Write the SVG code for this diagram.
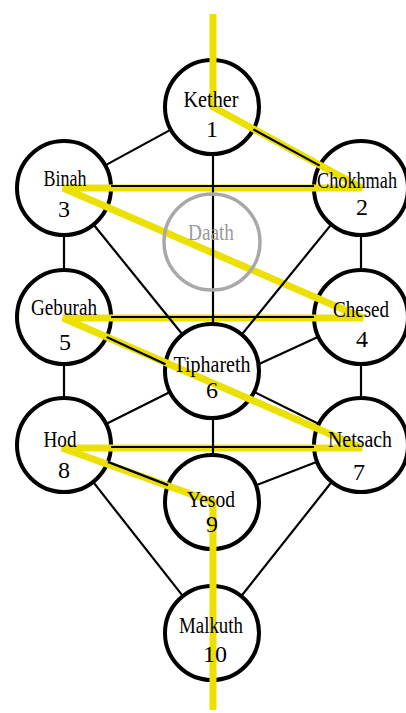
<svg xmlns="http://www.w3.org/2000/svg" width="406" height="713" viewBox="0 0 406 713">
<style>
.n{fill:#fff;stroke:#000;stroke-width:4}
.d{fill:none;stroke:#a8a8a8;stroke-width:3.5}
.c line{stroke:#000;stroke-width:2.2}
.bolt{fill:none;stroke:#ebe000;stroke-width:7}
.nm{font-family:"Liberation Serif",serif;font-size:24px;text-anchor:middle;fill:#000}
.num{font-family:"Liberation Serif",serif;font-size:24px;text-anchor:middle;fill:#000}
.g{fill:#9a9a9a}
</style>
<rect width="406" height="713" fill="#fff"/>
<g id="circles">
<circle id="c-kether" class="n" cx="212" cy="107" r="47"/>
<circle id="c-binah" class="n" cx="64" cy="188" r="47"/>
<circle id="c-chokhmah" class="n" cx="361" cy="188" r="47"/>
<circle id="c-geburah" class="n" cx="64" cy="317" r="47"/>
<circle id="c-chesed" class="n" cx="361" cy="317" r="47"/>
<circle id="c-tiphareth" class="n" cx="212" cy="371" r="47"/>
<circle id="c-hod" class="n" cx="64" cy="445" r="47"/>
<circle id="c-netsach" class="n" cx="361" cy="445" r="47"/>
<circle id="c-yesod" class="n" cx="212" cy="502" r="47"/>
<circle id="c-malkuth" class="n" cx="212" cy="633" r="47"/>
</g>
<g id="connectors-under" class="c">
<line x1="213" y1="549" x2="213" y2="586"/>
</g>
<path id="lightning" class="bolt" d="M213,14 L213,107 L362,188 L63,188 L363,318 L63,318 L362,448 L62,448 L213,502 L213,710"/>
<g id="connectors" class="c">
<line x1="170.8" y1="129.6" x2="105.2" y2="165.4"/>
<line x1="253.3" y1="129.4" x2="319.7" y2="165.6"/>
<line x1="213" y1="154" x2="213" y2="324"/>
<line x1="111" y1="186" x2="314" y2="186"/>
<line x1="64" y1="235" x2="64" y2="270"/>
<line x1="361" y1="235" x2="361" y2="270"/>
<line x1="93.5" y1="224.5" x2="182.5" y2="334.5"/>
<line x1="331.3" y1="224.4" x2="241.7" y2="334.6"/>
<line x1="111" y1="317" x2="314" y2="317"/>
<line x1="106.6" y1="336.9" x2="165.5" y2="364.3"/>
<line x1="318.4" y1="336.7" x2="258.5" y2="364.3"/>
<line x1="64" y1="364" x2="64" y2="398"/>
<line x1="361" y1="364" x2="361" y2="398"/>
<line x1="170" y1="392" x2="106" y2="424"/>
<line x1="254.1" y1="391.9" x2="318.9" y2="424.1"/>
<line x1="213" y1="418" x2="213" y2="455"/>
<line x1="111" y1="447" x2="314" y2="447"/>
<line x1="107.9" y1="461.9" x2="168.1" y2="485.1"/>
<line x1="317.1" y1="461.8" x2="256.1" y2="485.2"/>
<line x1="93.1" y1="481.9" x2="182.9" y2="596.1"/>
<line x1="331.8" y1="481.8" x2="241.2" y2="596.2"/>
</g>
<g id="daath">
<circle class="d" cx="212" cy="242" r="48"/>
<text class="nm g" x="211" y="240" textLength="46" lengthAdjust="spacingAndGlyphs">Daath</text>
</g>
<g id="kether"><text class="nm" x="211" y="107" textLength="55" lengthAdjust="spacingAndGlyphs">Kether</text><text class="num" x="212" y="137">1</text></g>
<g id="binah"><text class="nm" x="65" y="186" textLength="43" lengthAdjust="spacingAndGlyphs">Binah</text><text class="num" x="64" y="217">3</text></g>
<g id="chokhmah"><text class="nm" x="357" y="188" textLength="80" lengthAdjust="spacingAndGlyphs">Chokhmah</text><text class="num" x="362" y="215">2</text></g>
<g id="geburah"><text class="nm" x="64" y="315" textLength="66" lengthAdjust="spacingAndGlyphs">Geburah</text><text class="num" x="65" y="350">5</text></g>
<g id="chesed"><text class="nm" x="361" y="317" textLength="56" lengthAdjust="spacingAndGlyphs">Chesed</text><text class="num" x="362" y="347">4</text></g>
<g id="tiphareth"><text class="nm" x="212" y="372" textLength="77" lengthAdjust="spacingAndGlyphs">Tiphareth</text><text class="num" x="212" y="398">6</text></g>
<g id="hod"><text class="nm" x="60" y="447" textLength="33" lengthAdjust="spacingAndGlyphs">Hod</text><text class="num" x="64" y="478">8</text></g>
<g id="netsach"><text class="nm" x="360" y="447" textLength="64" lengthAdjust="spacingAndGlyphs">Netsach</text><text class="num" x="359" y="480">7</text></g>
<g id="yesod"><text class="nm" x="211" y="507" textLength="48" lengthAdjust="spacingAndGlyphs">Yesod</text><text class="num" x="212" y="532">9</text></g>
<g id="malkuth"><text class="nm" x="211" y="633" textLength="64" lengthAdjust="spacingAndGlyphs">Malkuth</text><text class="num" x="215" y="662">10</text></g>
</svg>
